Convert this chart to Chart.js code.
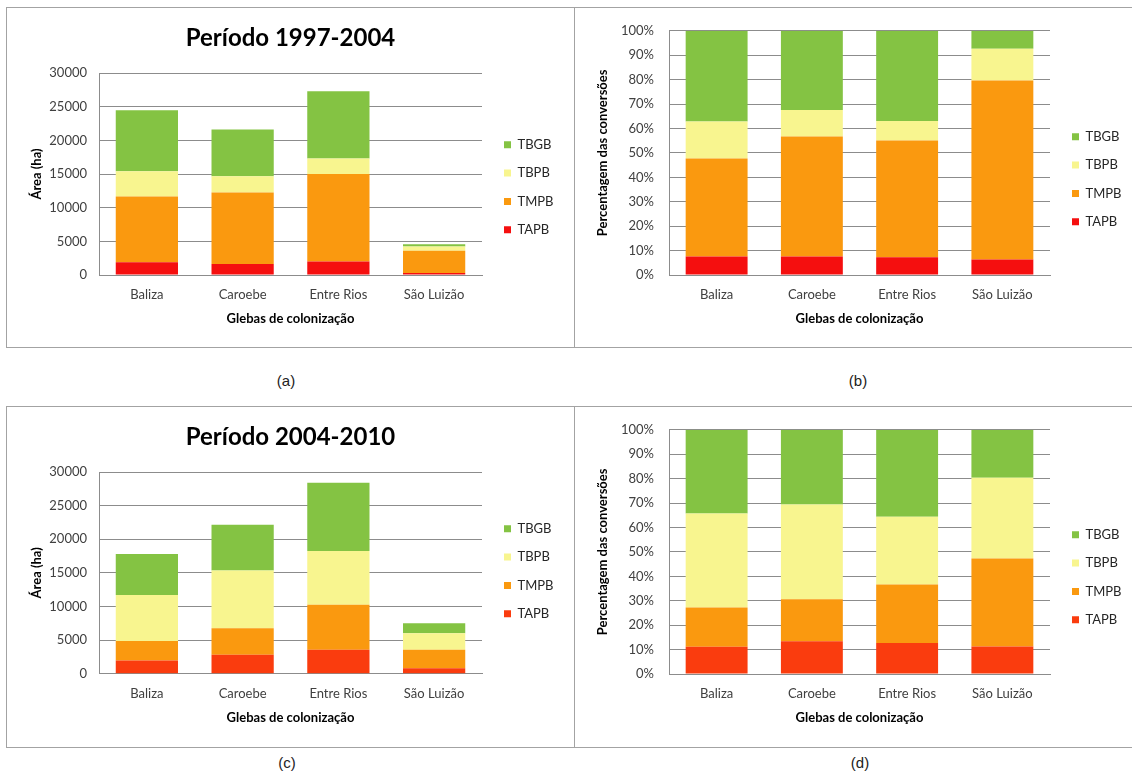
<!DOCTYPE html>
<html>
<head>
<meta charset="utf-8">
<script src="https://cdn.jsdelivr.net/npm/chart.js@4.4.1/dist/chart.umd.min.js"></script>
<style>
  body { margin: 0; width: 1132px; height: 774px; overflow: hidden; background: #fff; position: relative; }
  .frame { position: absolute; border: 1px solid #a3a3a3; box-sizing: border-box; }
  .vline { position: absolute; width: 1px; background: #a3a3a3; }
  canvas { position: absolute; }
  .cap { position: absolute; font-family: "Liberation Sans", Arial, sans-serif; font-size: 15px; color: #222; transform: translate(-50%, -50%); }
</style>
</head>
<body>
<div class="frame" style="left:6px; top:7px; width:1140px; height:341px;"></div>
<div class="vline" style="left:574px; top:7px; height:341px;"></div>
<div class="frame" style="left:6px; top:406px; width:1140px; height:342px;"></div>
<div class="vline" style="left:574px; top:406px; height:342px;"></div>

<canvas id="chartA" width="566" height="338" style="left:7px; top:8px;"></canvas>
<canvas id="chartB" width="557" height="338" style="left:575px; top:8px;"></canvas>
<canvas id="chartC" width="566" height="339" style="left:7px; top:407px;"></canvas>
<canvas id="chartD" width="557" height="339" style="left:575px; top:407px;"></canvas>

<div class="cap" style="left:286px; top:380px;">(a)</div>
<div class="cap" style="left:858px; top:380px;">(b)</div>
<div class="cap" style="left:287px; top:762px;">(c)</div>
<div class="cap" style="left:860px; top:762px;">(d)</div>

<script>
// glebas (categories)
const glebas = ['Baliza', 'Caroebe', 'Entre Rios', 'São Luizão'];

// (a) area, ha, 1997-2004
const tapbA = [1900, 1650, 2000, 300];
const tmpbA = [9750, 10600, 13000, 3320];
const tbpbA = [3750, 2400, 2300, 610];
const tbgbA = [9050, 6950, 10000, 320];

// (b) percentage, 1997-2004
const tapbB = [7.6, 7.6, 7.3, 6.3];
const tmpbB = [40.1, 49.1, 47.8, 73.3];
const tbpbB = [15.2, 10.9, 8.0, 13.1];
const tbgbB = [37.1, 32.4, 36.9, 7.3];

// (c) area, ha, 2004-2010
const tapbC = [1950, 2800, 3550, 800];
const tmpbC = [2900, 3950, 6700, 2750];
const tbpbC = [6850, 8600, 8000, 2450];
const tbgbC = [6100, 6800, 10150, 1500];

// (d) percentage, 2004-2010
const tapbD = [11.2, 13.4, 12.7, 11.3];
const tmpbD = [16.0, 17.2, 23.9, 36.0];
const tbpbD = [38.5, 38.8, 27.8, 33.1];
const tbgbD = [34.3, 30.6, 35.6, 19.6];

const FONT = 'Lato, "Open Sans", sans-serif';
const GRID = '#8c8c8c';

// moves the legend to a fixed spot after chart.js has done its layout
const legendSpot = {
  id: 'legendSpot',
  afterLayout(chart, args, opts) {
    const lg = chart.legend;
    if (!lg || opts.x == null) return;
    const h = lg.height;
    lg.left = opts.x; lg.right = opts.x + 120;
    lg.width = 120;
    lg.top = opts.y; lg.bottom = opts.y + h;
  }
};

function sets(tapb, tmpb, tbpb, tbgb, red) {
  return [
    { label: 'TAPB', data: tapb, backgroundColor: red },
    { label: 'TMPB', data: tmpb, backgroundColor: '#fa990f' },
    { label: 'TBPB', data: tbpb, backgroundColor: '#f8f58f' },
    { label: 'TBGB', data: tbgb, backgroundColor: '#84c343' }
  ].map(d => Object.assign(d, { borderWidth: 0, barPercentage: 0.65, categoryPercentage: 1 }));
}

function makeChart(id, datasets, o) {
  new Chart(document.getElementById(id), {
    type: 'bar',
    data: { labels: glebas, datasets: datasets },
    plugins: [legendSpot],
    options: {
      responsive: false,
      animation: false,
      devicePixelRatio: 1,
      layout: { padding: { left: 0, top: o.padTop, right: o.padRight, bottom: o.padBottom } },
      plugins: {
        title: {
          display: !!o.title,
          text: o.title,
          fullSize: false,
          color: '#000',
          font: { family: FONT, size: 24, weight: 'bold', lineHeight: 1.2 },
          padding: { top: 15.6, bottom: 20.6 }
        },
        legend: {
          position: 'right',
          align: 'start',
          reverse: true,
          maxWidth: 40,
          labels: {
            boxWidth: 7,
            boxHeight: 7,
            padding: 15.3,
            color: '#262626',
            font: { family: FONT, size: 13 }
          }
        },
        legendSpot: { x: o.legendX, y: o.legendY },
        tooltip: { enabled: false }
      },
      scales: {
        x: {
          stacked: true,
          grid: { display: false, drawTicks: false },
          border: { display: true, color: GRID },
          ticks: { color: '#404040', padding: 12, font: { family: FONT, size: 13 } },
          title: {
            display: true,
            text: 'Glebas de colonização',
            color: '#000',
            font: { family: FONT, size: 13, weight: 'bold', lineHeight: 1.2 },
            padding: 0
          },
          afterFit: s => { s.height = 51.8; }
        },
        y: {
          stacked: true,
          min: 0,
          max: o.max,
          grid: { color: GRID, drawTicks: false },
          border: { display: true, color: GRID },
          ticks: {
            stepSize: o.step,
            color: '#404040',
            padding: o.tickPad,
            font: { family: FONT, size: 13 },
            callback: v => o.pct ? v + '%' : String(v)
          },
          title: {
            display: true,
            text: o.yTitle,
            color: '#000',
            font: { family: FONT, size: 13, weight: 'bold', lineHeight: 1.2 },
            padding: { top: o.yTitlePad, bottom: 0 }
          },
          afterFit: s => { s.width = o.yWidth; }
        }
      }
    }
  });
}

makeChart('chartA', sets(tapbA, tmpbA, tbpbA, tbgbA, '#f50f0f'), {
  title: 'Período 1997-2004', max: 30000, step: 5000, pct: false,
  yTitle: 'Área (ha)', yTitlePad: 22, yWidth: 92, tickPad: 12,
  padTop: 0, padRight: 51, padBottom: 19.2, legendX: 481.7, legendY: 115
});

makeChart('chartB', sets(tapbB, tmpbB, tbpbB, tbgbB, '#f50f0f'), {
  title: '', max: 100, step: 10, pct: true,
  yTitle: 'Percentagem das conversões', yTitlePad: 20.2, yWidth: 94, tickPad: 15,
  padTop: 17, padRight: 42, padBottom: 19.2, legendX: 481.7, legendY: 107
});

makeChart('chartC', sets(tapbC, tmpbC, tbpbC, tbgbC, '#fa3c0e'), {
  title: 'Período 2004-2010', max: 30000, step: 5000, pct: false,
  yTitle: 'Área (ha)', yTitlePad: 22, yWidth: 92, tickPad: 12,
  padTop: 0, padRight: 51, padBottom: 20.5, legendX: 481.7, legendY: 100
});

makeChart('chartD', sets(tapbD, tmpbD, tbpbD, tbgbD, '#fa3c0e'), {
  title: '', max: 100, step: 10, pct: true,
  yTitle: 'Percentagem das conversões', yTitlePad: 20.2, yWidth: 94, tickPad: 15,
  padTop: 17.3, padRight: 42, padBottom: 20.2, legendX: 481.7, legendY: 106
});
</script>
</body>
</html>
